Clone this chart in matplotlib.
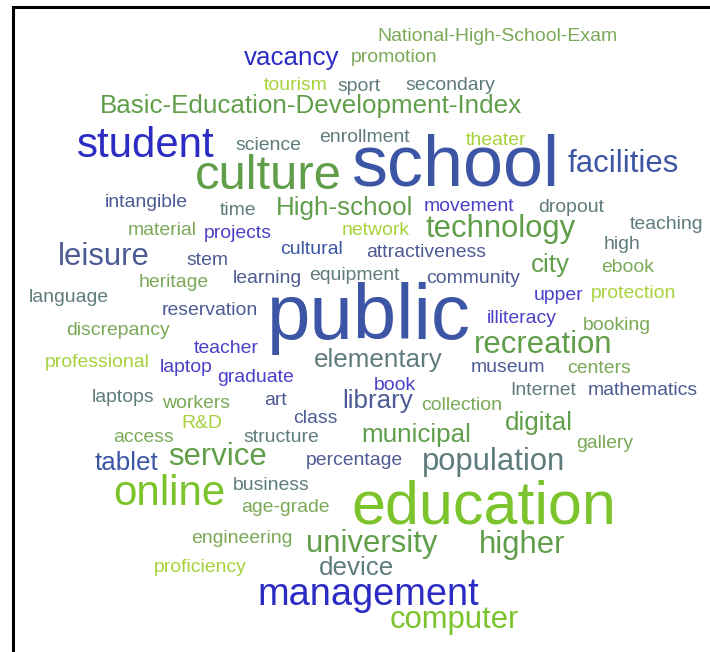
import matplotlib
matplotlib.use("Agg")
import matplotlib.pyplot as plt

# word cloud data: words and their relative weights (font size in px ~ weight)
words = ["public", "school", "education", "culture", "student", "online", "management",
         "technology", "facilities", "leisure", "recreation", "service", "population",
         "university", "higher", "computer",
         "Basic-Education-Development-Index", "High-school", "vacancy", "city", "elementary",
         "library", "digital", "municipal", "tablet", "device",
         "National-High-School-Exam", "promotion", "tourism", "sport", "secondary", "science",
         "enrollment", "theater", "intangible", "time", "movement", "dropout", "teaching",
         "material", "projects", "network", "high", "stem", "cultural", "attractiveness",
         "ebook", "heritage", "learning", "equipment", "community", "language", "reservation",
         "upper", "protection", "illiteracy", "booking", "discrepancy", "teacher",
         "professional", "laptop", "graduate", "museum", "centers", "book", "Internet",
         "mathematics", "laptops", "workers", "art", "collection", "R&D", "class", "access",
         "structure", "gallery", "percentage", "business", "age-grade", "engineering",
         "proficiency"]
weights = [78, 72, 61, 49, 42, 42, 38,
           31, 31, 31, 31, 31, 31, 31, 31, 31,
           26, 26, 26, 26, 26, 26, 26, 26, 26, 26] + [19.4] * 55

# layout: left x, baseline y (pixels)
layout = {
    "public": (267, 339), "school": (351, 186), "education": (351, 524),
    "culture": (195, 189), "student": (77, 157), "online": (113, 505),
    "management": (257, 605), "technology": (426, 237), "facilities": (567, 172),
    "leisure": (58, 265), "recreation": (474, 353), "service": (168, 465),
    "population": (422, 470), "university": (306, 552), "higher": (479, 553),
    "computer": (390, 628), "Basic-Education-Development-Index": (100, 113),
    "High-school": (276, 215), "vacancy": (244, 65), "city": (531, 272),
    "elementary": (314, 367), "library": (342, 408), "digital": (505, 430),
    "municipal": (361, 442), "tablet": (95, 470), "device": (319, 575),
    "National-High-School-Exam": (377, 41), "promotion": (351, 62), "tourism": (264, 90),
    "sport": (337, 91), "secondary": (405, 90), "science": (235, 150),
    "enrollment": (319, 142), "theater": (466, 145), "intangible": (105, 207),
    "time": (220, 215), "movement": (424, 211), "dropout": (538, 212),
    "teaching": (630, 229), "material": (128, 235), "projects": (204, 238),
    "network": (342, 235), "high": (604, 249), "stem": (186, 265), "cultural": (280, 254),
    "attractiveness": (366, 257), "ebook": (601, 272), "heritage": (139, 287),
    "learning": (233, 283), "equipment": (309, 280), "community": (426, 283),
    "language": (29, 302), "reservation": (162, 315), "upper": (534, 300),
    "protection": (591, 298), "illiteracy": (487, 323), "booking": (583, 330),
    "discrepancy": (66, 335), "teacher": (194, 353), "professional": (45, 367),
    "laptop": (160, 372), "graduate": (217, 382), "museum": (471, 372),
    "centers": (567, 373), "book": (374, 390), "Internet": (510, 395),
    "mathematics": (588, 395), "laptops": (92, 402), "workers": (162, 408),
    "art": (264, 405), "collection": (421, 410), "R&D": (181, 428), "class": (293, 423),
    "access": (113, 442), "structure": (243, 442), "gallery": (576, 448),
    "percentage": (306, 465), "business": (233, 490), "age-grade": (241, 512),
    "engineering": (191, 543), "proficiency": (154, 572),
}

palette = {
    "deep": "#2c2cc4", "purple": "#4a3fc6", "slate": "#3c55a5", "grayblue": "#4d5b95",
    "teal": "#5f7b7b", "green": "#609e4a", "olive": "#7aa957", "yellow": "#a6d23a",
    "lime": "#7bc42b",
}
color_of = {}
for w in ["student", "management", "vacancy"]:
    color_of[w] = "deep"
for w in ["movement", "projects", "teacher", "graduate", "laptop", "illiteracy", "upper", "book"]:
    color_of[w] = "purple"
for w in ["school", "public", "facilities", "tablet", "cultural"]:
    color_of[w] = "slate"
for w in ["intangible", "leisure", "stem", "learning", "reservation", "attractiveness",
          "community", "museum", "mathematics", "art", "class", "percentage", "library"]:
    color_of[w] = "grayblue"
for w in ["sport", "secondary", "science", "enrollment", "time", "dropout", "teaching", "high",
          "language", "equipment", "elementary", "Internet", "laptops", "structure",
          "business", "device", "population"]:
    color_of[w] = "teal"
for w in ["culture", "Basic-Education-Development-Index", "High-school", "technology", "city",
          "recreation", "municipal", "digital", "service", "university", "higher"]:
    color_of[w] = "green"
for w in ["National-High-School-Exam", "promotion", "material", "heritage", "ebook", "booking",
          "discrepancy", "centers", "workers", "collection", "access", "gallery",
          "age-grade", "engineering"]:
    color_of[w] = "olive"
for w in ["tourism", "theater", "network", "protection", "professional", "R&D", "proficiency"]:
    color_of[w] = "yellow"
for w in ["education", "online", "computer"]:
    color_of[w] = "lime"

W, H = 710, 652
fig = plt.figure(figsize=(W / 100, H / 100), dpi=100)
ax = fig.add_axes([0, 0, 1, 1])
ax.set_xlim(0, W)
ax.set_ylim(H, 0)
ax.axis("off")

for word, wt in zip(words, weights):
    x, y = layout[word]
    ax.text(x, y, word, fontsize=wt * 0.72, family="Liberation Sans",
            color=palette[color_of.get(word, "teal")], ha="left", va="baseline")

# frame (top and left edges visible in the crop)
ax.plot([12.5, 12.5, W], [H, 6.5, 6.5], color="black", lw=2.2, solid_joinstyle="miter")

fig.savefig("out.png", dpi=100)
